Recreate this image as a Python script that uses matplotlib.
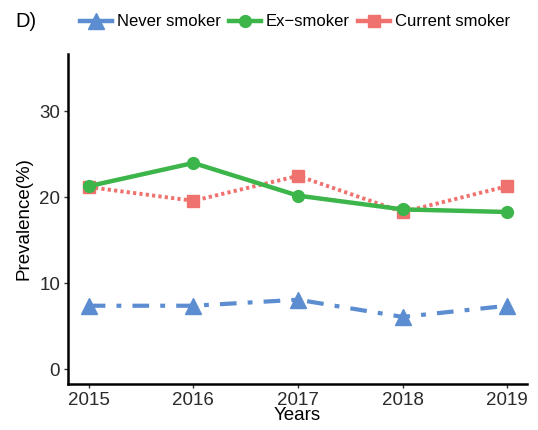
import matplotlib
matplotlib.use("Agg")
import matplotlib.pyplot as plt
from matplotlib.lines import Line2D

plt.rcParams['font.family'] = ['Liberation Sans', 'DejaVu Sans']
plt.rcParams['lines.scale_dashes'] = False

years = [2015, 2016, 2017, 2018, 2019]
never_smoker = [7.4, 7.4, 8.1, 6.1, 7.4]
ex_smoker = [21.3, 24.0, 20.2, 18.6, 18.3]
current_smoker = [21.2, 19.6, 22.5, 18.3, 21.3]
y_ticks = [0, 10, 20, 30]

c_never = '#5b8dd0'
c_ex = '#3cb54a'
c_cur = '#f0726e'

fig = plt.figure(figsize=(5.38, 4.30), dpi=100)
ax = fig.add_axes([0.126, 0.107, 0.854, 0.768])

ax.plot(years, never_smoker, color=c_never, lw=3.0, dashes=(12, 8, 3.5, 8),
        marker='^', markersize=12, zorder=3)
ax.plot(years, current_smoker, color=c_cur, lw=2.8, dashes=(2.3, 2.3),
        marker='s', markersize=8, zorder=3)
ax.plot(years, ex_smoker, color=c_ex, lw=3.2, linestyle='-',
        marker='o', markersize=8.5, zorder=4)

ax.set_xlim(2014.8, 2019.19)
ax.set_ylim(-1.7, 36.7)
ax.set_xticks(years)
ax.set_yticks(y_ticks)
ax.tick_params(labelsize=13.5, length=3, width=1, colors='#333333', labelcolor='#2a2a2a', pad=2.5)
ax.set_xlabel('Years', fontsize=13.5, labelpad=-1)
ax.set_ylabel('Prevalence(%)', fontsize=13.5, labelpad=5)
for s in ('top', 'right'):
    ax.spines[s].set_visible(False)
for s in ('left', 'bottom'):
    ax.spines[s].set_linewidth(1.8)
    ax.spines[s].set_color('black')

handles = [
    Line2D([], [], color=c_never, lw=3.2, marker='^', markersize=12),
    Line2D([], [], color=c_ex, lw=3.2, marker='o', markersize=8.5),
    Line2D([], [], color=c_cur, lw=3.2, marker='s', markersize=8),
]
fig.legend(handles, ['Never smoker', 'Ex\u2212smoker', 'Current smoker'],
           loc='center', bbox_to_anchor=(0.548, 0.949), ncol=3, frameon=False,
           fontsize=12, handlelength=1.9, handletextpad=0.3, columnspacing=0.5)

fig.text(0.028, 0.949, 'D)', fontsize=14.5, va='center', ha='left')

fig.savefig('out.png', dpi=100)
